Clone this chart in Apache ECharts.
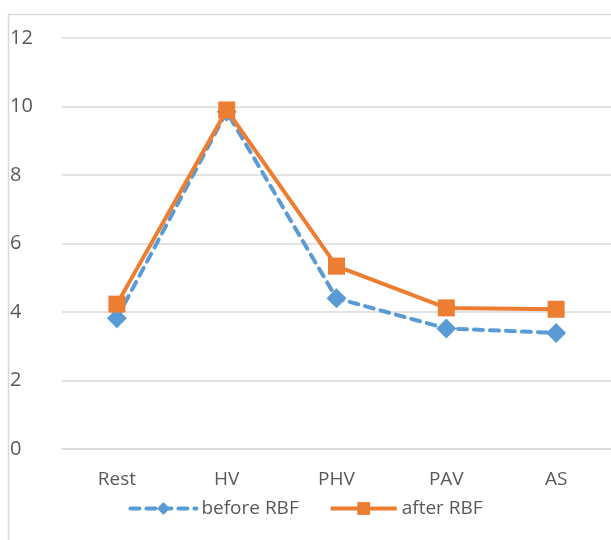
<!DOCTYPE html>
<html>
<head>
<meta charset="utf-8">
<script src="https://cdn.jsdelivr.net/npm/echarts@6/dist/echarts.min.js"></script>
<style>
  html, body { margin: 0; padding: 0; background: #fff; }
  #main { width: 611px; height: 540px; }
</style>
</head>
<body>
<div id="main"></div>
<script>
// 数据
const categories = ['Rest', 'HV', 'PHV', 'PAV', 'AS'];
const beforeRBF = [3.82, 9.85, 4.4, 3.52, 3.39];
const afterRBF = [4.23, 9.9, 5.34, 4.12, 4.08];
const yTicks = [0, 12, 2];

var myChart = echarts.init(document.getElementById('main'));

var option = {
  animation: false,
  backgroundColor: '#fff',
  textStyle: { fontFamily: 'Open Sans, Liberation Sans, sans-serif' },
  graphic: [{
    type: 'rect',
    shape: { x: 8.5, y: 14.5, width: 620, height: 600 },
    style: { fill: 'none', stroke: '#d9d9d9', lineWidth: 1.5 },
    silent: true
  }],
  grid: { left: 62, right: 0, top: 38, bottom: 91 },
  legend: {
    bottom: 17,
    left: 'center',
    itemWidth: 66,
    itemHeight: 16,
    itemGap: 30,
    lineStyle: { width: 4 },
    textStyle: { fontSize: 19, color: '#595959' },
    data: ['before RBF', 'after RBF']
  },
  xAxis: {
    type: 'category',
    data: categories,
    axisLine: { lineStyle: { color: '#d9d9d9', width: 1.5 } },
    axisTick: { show: false },
    axisLabel: { fontSize: 19, color: '#595959', margin: 21 }
  },
  yAxis: {
    type: 'value',
    min: yTicks[0],
    max: yTicks[1],
    interval: yTicks[2],
    axisLine: { show: false },
    axisTick: { show: false },
    axisLabel: { fontSize: 20, color: '#595959', align: 'left', margin: 52 },
    splitLine: { lineStyle: { color: '#d9d9d9', width: 1.5 } }
  },
  series: [
    {
      name: 'before RBF',
      type: 'line',
      data: beforeRBF,
      symbol: 'diamond',
      symbolSize: 20,
      color: '#5B9BD5',
      lineStyle: { width: 4, type: [9, 7], cap: 'round' },
      itemStyle: { color: '#5B9BD5' },
      z: 2
    },
    {
      name: 'after RBF',
      type: 'line',
      data: afterRBF,
      symbol: 'rect',
      symbolSize: 17,
      color: '#ED7D31',
      lineStyle: { width: 4 },
      itemStyle: { color: '#ED7D31' },
      z: 3
    }
  ]
};
myChart.setOption(option);
</script>
</body>
</html>
